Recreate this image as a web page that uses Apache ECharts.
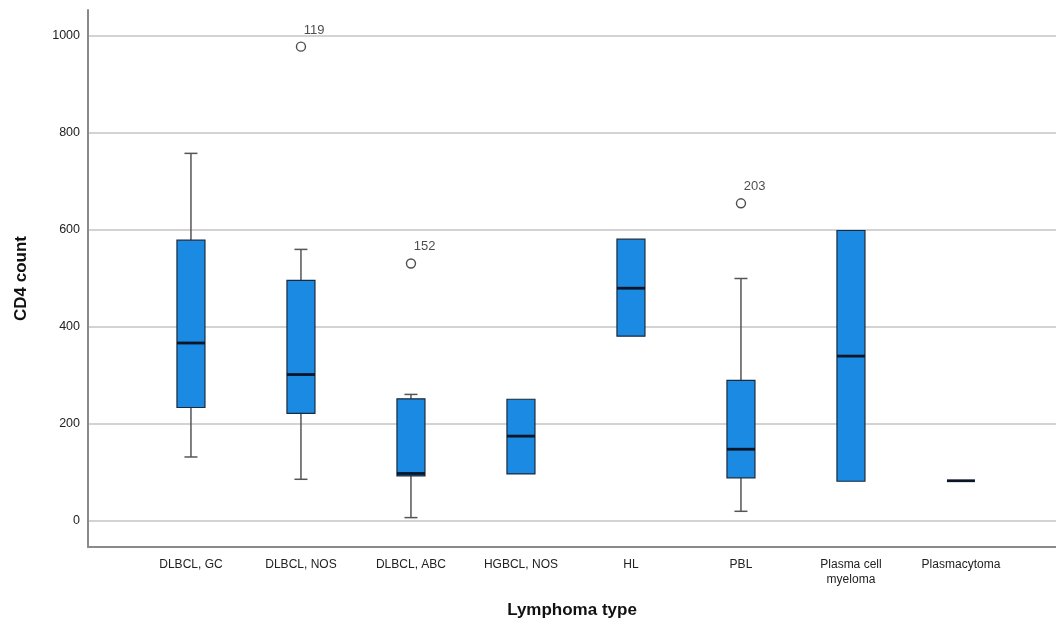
<!DOCTYPE html>
<html>
<head>
<meta charset="utf-8">
<script src="https://cdn.jsdelivr.net/npm/echarts@6/dist/echarts.min.js"></script>
<style>html,body{margin:0;padding:0;background:#fff}#c{width:1056px;height:628px}</style>
</head>
<body>
<div id="c"></div>
<script>
const categories = ['DLBCL, GC', 'DLBCL, NOS', 'DLBCL, ABC', 'HGBCL, NOS', 'HL', 'PBL', 'Plasma cell\nmyeloma', 'Plasmacytoma'];
const whiskerMin = [132, 86, 7, 97, 381, 20, 82, 83];
const q1Values   = [234, 222, 93, 97, 381, 89, 82, 83];
const medians    = [367, 302, 98, 175, 480, 148, 340, 83];
const q3Values   = [579, 496, 252, 251, 581, 290, 599, 83];
const whiskerMax = [758, 560, 261, 251, 581, 500, 599, 83];
const outlierCategories = ['DLBCL, NOS', 'DLBCL, ABC', 'PBL'];
const outlierValues = [978, 531, 655];
const outlierIds = ['119', '152', '203'];
const yTicks = [0, 200, 400, 600, 800, 1000];

const boxData = categories.map((c, i) => [i, whiskerMin[i], q1Values[i], medians[i], q3Values[i], whiskerMax[i]]);
const outlierData = outlierCategories.map((c, k) => ({ value: [categories.indexOf(c), outlierValues[k]], id: outlierIds[k] }));

const FONT = '"Liberation Sans", Arial, sans-serif';
const chart = echarts.init(document.getElementById('c'), null, { renderer: 'canvas' });
chart.setOption({
  animation: false,
  backgroundColor: '#ffffff',
  grid: { left: 88, right: 0, top: 10, bottom: 81, containLabel: false },
  xAxis: {
    type: 'value', min: -0.936, max: 7.864,
    name: 'Lymphoma type', nameLocation: 'middle', nameGap: 55,
    nameTextStyle: { fontFamily: FONT, fontSize: 17, fontWeight: 'bold', color: '#111' },
    axisLine: { show: true, onZero: false, lineStyle: { color: '#8a8a8a', width: 2 } },
    axisTick: { show: false },
    splitLine: { show: false },
    axisLabel: {
      customValues: categories.map((c, i) => i),
      formatter: v => categories[Math.round(v)] || '',
      fontFamily: FONT, fontSize: 12, color: '#222', margin: 10, lineHeight: 15
    }
  },
  yAxis: {
    type: 'value', min: -53.6, max: 1053.6,
    name: 'CD4 count', nameLocation: 'middle', nameGap: 58, nameRotate: 90,
    nameTextStyle: { fontFamily: FONT, fontSize: 17, fontWeight: 'bold', color: '#111' },
    axisLine: { show: true, onZero: false, lineStyle: { color: '#8a8a8a', width: 2 } },
    axisTick: { show: false, customValues: yTicks },
    axisLabel: { customValues: yTicks, formatter: v => String(v), fontFamily: FONT, fontSize: 12.5, color: '#222', margin: 8 },
    splitLine: { show: true, lineStyle: { color: '#c4c4c4', width: 1.5 } }
  },
  series: [
    {
      type: 'custom',
      data: boxData,
      encode: { x: 0, y: [1, 2, 3, 4, 5] },
      renderItem: function (params, api) {
        const i = api.value(0);
        const mn = api.value(1), q1 = api.value(2), md = api.value(3), q3 = api.value(4), mx = api.value(5);
        const bw = 28, cw = 13;
        const pMn = api.coord([i, mn]), pQ1 = api.coord([i, q1]), pMd = api.coord([i, md]), pQ3 = api.coord([i, q3]), pMx = api.coord([i, mx]);
        const x = pMd[0];
        const wStyle = { stroke: '#555', lineWidth: 1.5 };
        const children = [];
        if (mx > q3) {
          children.push({ type: 'line', shape: { x1: x, y1: pQ3[1], x2: x, y2: pMx[1] }, style: wStyle });
          children.push({ type: 'line', shape: { x1: x - cw / 2, y1: pMx[1], x2: x + cw / 2, y2: pMx[1] }, style: wStyle });
        }
        if (mn < q1) {
          children.push({ type: 'line', shape: { x1: x, y1: pQ1[1], x2: x, y2: pMn[1] }, style: wStyle });
          children.push({ type: 'line', shape: { x1: x - cw / 2, y1: pMn[1], x2: x + cw / 2, y2: pMn[1] }, style: wStyle });
        }
        if (q3 > q1) {
          children.push({ type: 'rect', shape: { x: x - bw / 2, y: pQ3[1], width: bw, height: pQ1[1] - pQ3[1] },
            style: { fill: '#1a8ae2', stroke: '#1b2a3c', lineWidth: 1.2 } });
        }
        children.push({ type: 'line', shape: { x1: x - bw / 2, y1: pMd[1], x2: x + bw / 2, y2: pMd[1] },
          style: { stroke: '#0b1528', lineWidth: 2.8 } });
        return { type: 'group', children: children };
      },
      z: 3
    },
    {
      type: 'scatter',
      data: outlierData,
      symbol: 'circle', symbolSize: 9,
      itemStyle: { color: '#ffffff', borderColor: '#222', borderWidth: 1.4 },
      label: {
        show: true, position: [8, -18], formatter: p => p.data.id,
        fontFamily: FONT, fontSize: 13, color: '#222', align: 'left', verticalAlign: 'top'
      },
      z: 4
    }
  ]
});
</script>
</body>
</html>
